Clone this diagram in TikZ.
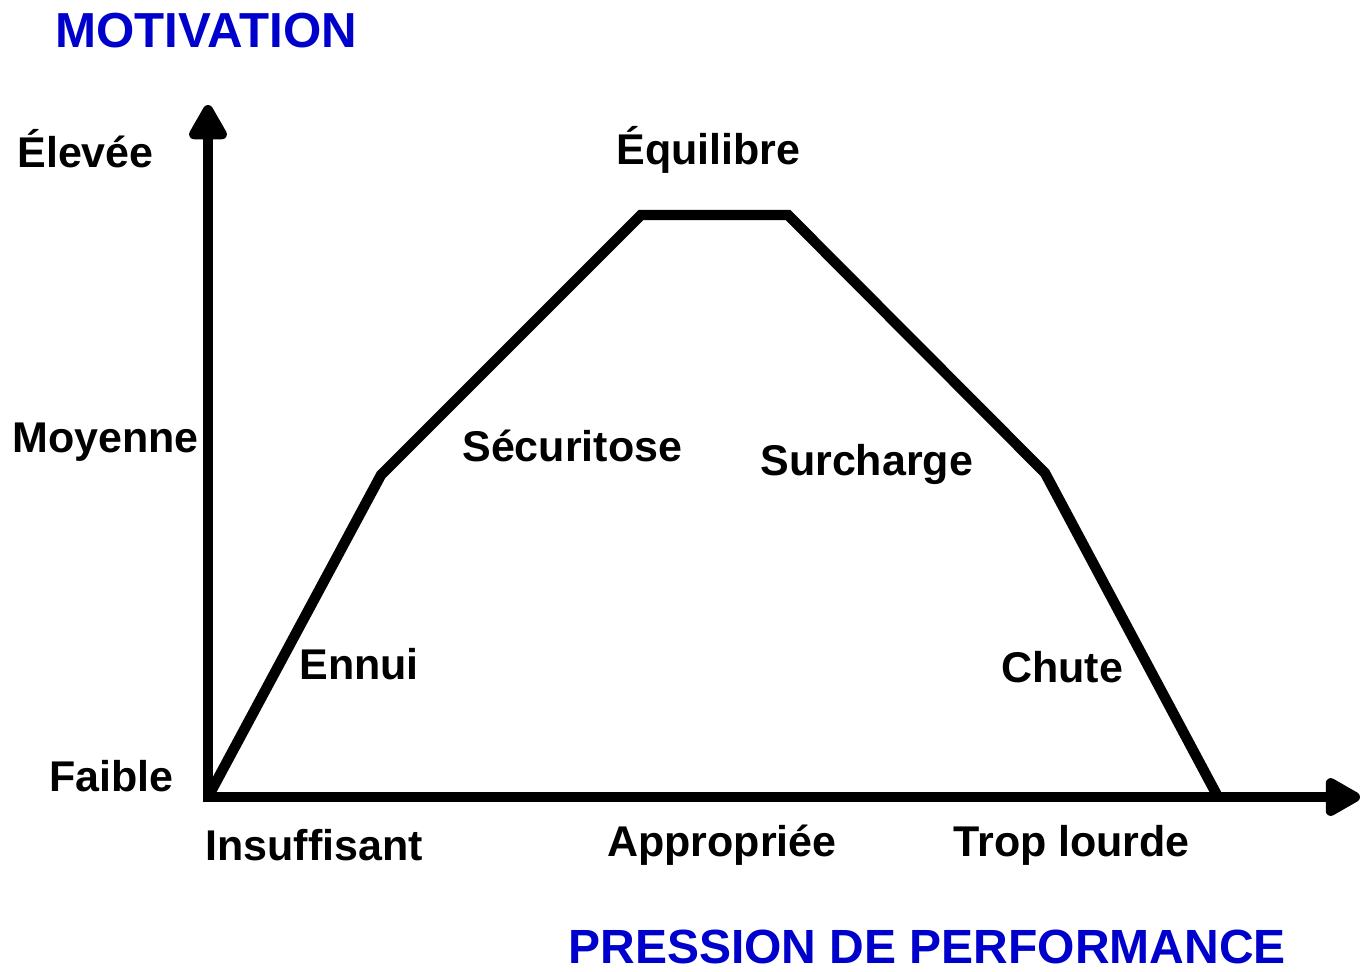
\documentclass[tikz,border=0pt]{standalone}
\usepackage{fontspec}
\setmainfont{Liberation Sans}
\usetikzlibrary{arrows.meta}
\definecolor{titleblue}{RGB}{0,0,204}
\tikzset{
  lbl/.style={anchor=base west, inner sep=0pt, font=\fontsize{21.5}{25}\selectfont\bfseries},
  ttl/.style={anchor=base west, inner sep=0pt, text=titleblue, font=\fontsize{#1}{29}\selectfont\bfseries},
  ttl/.default=24,
  axis/.style={line width=5.2pt, -{Triangle[length=20pt,width=21pt,round]}},
  curve/.style={line width=5.2pt, miter limit=10}
}

\begin{document}
\begin{tikzpicture}[x=0.5pt,y=-0.5pt]
  \useasboundingbox (0,0) rectangle (1362,971);

  %% axes
  \coordinate (ybot) at (208,802);
  \coordinate (ytip) at (208,105);
  \coordinate (xbot) at (203,797);
  \coordinate (xtip) at (1360,797);
  \draw[axis] (ybot) -- (ytip);
  \draw[axis] (xbot) -- (xtip);

  %% curve
  \coordinate (o)  at (208,797);
  \coordinate (c1) at (381,475);
  \coordinate (c2) at (641,215);
  \coordinate (c3) at (788,215);
  \coordinate (c4) at (1045,473);
  \coordinate (c5) at (1218,797);
  \draw[curve] (o) -- (c1) -- (c2) -- (c3) -- (c4) -- (c5);

  %% titles
  \node[ttl=24.6] (tMot) at (55,47) {MOTIVATION};
  \node[ttl] (tPres) at (568,963) {PRESSION DE PERFORMANCE};

  %% y labels
  \node[lbl] (lHigh) at (17,167) {Élevée};
  \node[lbl] (lMid)  at (12,452) {Moyenne};
  \node[lbl] (lLow)  at (49,791) {Faible};

  %% x labels
  \node[lbl] (lIns)  at (205,860) {Insuffisant};
  \node[lbl] (lApp)  at (607,856) {Appropriée};
  \node[lbl] (lTrop) at (953,856) {Trop lourde};

  %% zones
  \node[lbl] (zEq)   at (616,164) {Équilibre};
  \node[lbl] (zSec)  at (462,461) {Sécuritose};
  \node[lbl] (zSur)  at (760,475) {Surcharge};
  \node[lbl] (zEnn)  at (299,679) {Ennui};
  \node[lbl] (zChu)  at (1001,682) {Chute};
\end{tikzpicture}
\end{document}
